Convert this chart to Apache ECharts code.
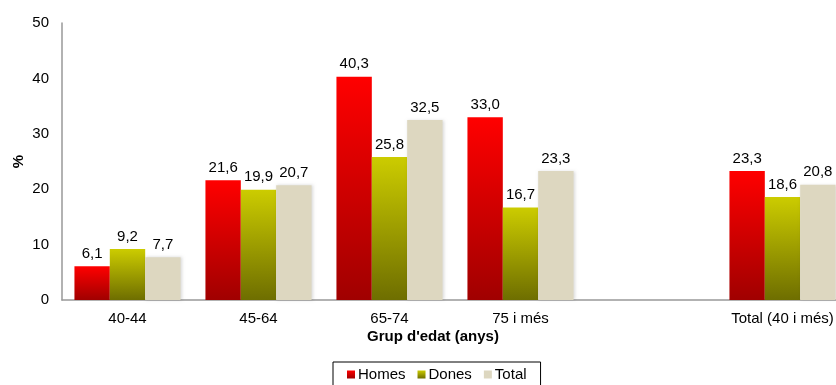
<!DOCTYPE html>
<html>
<head>
<meta charset="utf-8">
<script src="https://cdn.jsdelivr.net/npm/echarts@6/dist/echarts.min.js"></script>
<style>
  html, body { margin: 0; padding: 0; background: #fff; }
  #main { width: 836px; height: 385px; }
</style>
</head>
<body>
<div id="main"></div>
<script>
// categories (one empty slot between "75 i més" and the total)
const categories = ['40-44', '45-64', '65-74', '75 i més', '', 'Total (40 i més)'];
const homes = [6.1, 21.6, 40.3, 33.0, null, 23.3];
const dones = [9.2, 19.9, 25.8, 16.7, null, 18.6];
const total = [7.7, 20.7, 32.5, 23.3, null, 20.8];
const yTicks = [0, 10, 20, 30, 40, 50];

const font = 'Liberation Sans, Arial, sans-serif';

function grad(top, bottom) {
  return new echarts.graphic.LinearGradient(0, 0, 0, 1, [
    { offset: 0, color: top },
    { offset: 1, color: bottom }
  ]);
}

const label = {
  show: true,
  position: 'top',
  distance: 5,
  color: '#000',
  fontFamily: font,
  fontSize: 15,
  formatter: (p) => p.value == null ? '' : p.value.toFixed(1).replace('.', ',')
};

let chart = echarts.init(document.getElementById('main'));
chart.setOption({
  animation: false,
  // plot runs past the right edge, the total group is cut like in the original
  grid: { left: 62, top: 23, bottom: 85, right: -12, outerBoundsMode: 'none', containLabel: false },
  legend: {
    data: ['Homes', 'Dones', 'Total'],
    icon: 'rect',
    top: 362,
    left: 333,
    itemWidth: 8,
    itemHeight: 8,
    itemGap: 12,
    padding: [5, 14, 6, 14],
    borderColor: '#000',
    borderWidth: 1,
    borderRadius: 0,
    textStyle: { fontFamily: font, fontSize: 15, color: '#000', padding: [0, 0, 0, -2] }
  },
  graphic: [{
    type: 'text',
    left: 367,
    top: 329,
    style: { text: "Grup d'edat (anys)", font: 'bold 15px ' + font, fill: '#000' }
  }],
  xAxis: {
    type: 'category',
    data: categories,
    axisLine: { lineStyle: { color: '#999', width: 1.5 } },
    axisTick: { show: false },
    axisLabel: { interval: 0, hideOverlap: false, color: '#000', fontFamily: font, fontSize: 15, margin: 11 }
  },
  yAxis: {
    type: 'value',
    min: yTicks[0],
    max: yTicks[yTicks.length - 1],
    interval: 10,
    name: '%',
    nameLocation: 'middle',
    nameRotate: 90,
    nameGap: 36,
    nameMoveOverlap: false,
    nameTextStyle: { color: '#000', fontFamily: font, fontSize: 15, fontWeight: 'bold' },
    axisLine: { show: true, lineStyle: { color: '#999', width: 1.5 } },
    axisTick: { show: false },
    splitLine: { show: false },
    axisLabel: { color: '#000', fontFamily: font, fontSize: 15, margin: 13 }
  },
  series: [
    {
      name: 'Homes', type: 'bar', data: homes, barGap: '0%', barCategoryGap: '19%',
      itemStyle: { color: grad('#ff0000', '#a00000') }, label: label
    },
    {
      name: 'Dones', type: 'bar', data: dones,
      itemStyle: { color: grad('#cccc00', '#6e6e00') }, label: label
    },
    {
      name: 'Total', type: 'bar', data: total,
      itemStyle: { color: '#ddd7c0', shadowColor: 'rgba(0,0,0,0.15)', shadowBlur: 3, shadowOffsetX: 1 },
      label: label
    }
  ]
});
</script>
</body>
</html>
